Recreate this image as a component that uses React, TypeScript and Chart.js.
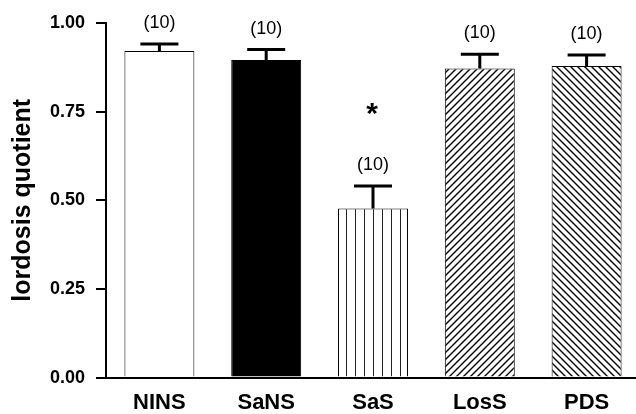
import React, { useEffect, useRef } from 'react';
import { Chart, registerables } from 'chart.js';

Chart.register(...registerables);

const categories = ['NINS', 'SaNS', 'SaS', 'LosS', 'PDS'];
const means = [0.921, 0.896, 0.477, 0.872, 0.879];
const sems = [0.02, 0.029, 0.063, 0.04, 0.031];
const groupSizes = [10, 10, 10, 10, 10];
const significant = [false, false, true, false, false];
const yTicks = [0, 0.25, 0.5, 0.75, 1.0];
const fills = ['white', 'black', 'vstripe', 'fwdhatch', 'backhatch'];

const FONT = "'Liberation Sans', Arial, Helvetica, sans-serif";

function makeFill(ctx: CanvasRenderingContext2D, kind: string): any {
  if (kind === 'white') return '#ffffff';
  if (kind === 'black') return '#000000';
  const c = document.createElement('canvas');
  const g = c.getContext('2d') as CanvasRenderingContext2D;
  if (kind === 'vstripe') {
    c.width = 9;
    c.height = 9;
    g.fillStyle = '#ffffff';
    g.fillRect(0, 0, 9, 9);
    g.fillStyle = '#222222';
    g.fillRect(4, 0, 1, 9);
  } else {
    const s = 7;
    c.width = s;
    c.height = s;
    g.fillStyle = '#ffffff';
    g.fillRect(0, 0, s, s);
    g.strokeStyle = '#000000';
    g.lineWidth = 1.4;
    g.beginPath();
    if (kind === 'fwdhatch') {
      g.moveTo(0, s);
      g.lineTo(s, 0);
      g.moveTo(-2, 2);
      g.lineTo(2, -2);
      g.moveTo(s - 2, s + 2);
      g.lineTo(s + 2, s - 2);
    } else {
      g.moveTo(0, 0);
      g.lineTo(s, s);
      g.moveTo(-2, s - 2);
      g.lineTo(2, s + 2);
      g.moveTo(s - 2, -2);
      g.lineTo(s + 2, 2);
    }
    g.stroke();
  }
  return ctx.createPattern(c, 'repeat');
}

const annotatePlugin = {
  id: 'annotate',
  afterDatasetsDraw(chart: any) {
    const ctx: CanvasRenderingContext2D = chart.ctx;
    const meta = chart.getDatasetMeta(0);
    const yScale = chart.scales.y;
    ctx.save();
    for (let i = 0; i < means.length; i++) {
      const bar = meta.data[i];
      const x = bar.x;
      const yTop = yScale.getPixelForValue(means[i]);
      const yCap = yScale.getPixelForValue(means[i] + sems[i]);
      ctx.strokeStyle = '#000';
      ctx.lineWidth = 3;
      ctx.beginPath();
      ctx.moveTo(x, yTop);
      ctx.lineTo(x, yCap);
      ctx.moveTo(x - 19, yCap);
      ctx.lineTo(x + 19, yCap);
      ctx.stroke();
      const labelY = yCap - 21;
      ctx.fillStyle = '#000';
      ctx.textAlign = 'center';
      ctx.textBaseline = 'middle';
      ctx.font = `18px ${FONT}`;
      ctx.fillText(`(${groupSizes[i]})`, x, labelY);
      if (significant[i]) {
        ctx.font = `bold 30px ${FONT}`;
        ctx.fillText('*', x - 1, labelY - 50);
      }
    }
    ctx.restore();
  },
};

export default function App() {
  const ref = useRef<HTMLCanvasElement | null>(null);
  useEffect(() => {
    const canvas = ref.current;
    if (!canvas) return;
    const ctx = canvas.getContext('2d') as CanvasRenderingContext2D;
    const chart = new Chart(ctx, {
      type: 'bar',
      data: {
        labels: categories,
        datasets: [
          {
            data: means,
            backgroundColor: fills.map((f) => makeFill(ctx, f)),
            borderColor: '#000',
            borderWidth: 1,
            categoryPercentage: 1,
            barPercentage: 0.655,
          },
        ],
      },
      options: {
        responsive: false,
        animation: false,
        devicePixelRatio: 1,
        layout: { padding: { left: 0, right: 20, top: 23, bottom: 0 } },
        plugins: { legend: { display: false }, tooltip: { enabled: false } },
        scales: {
          x: {
            grid: { display: false, drawTicks: false },
            border: { display: true, color: '#000', width: 2 },
            ticks: {
              color: '#000',
              font: { family: FONT, size: 22, weight: 'bold' },
              padding: 12,
            },
          },
          y: {
            min: 0,
            max: 1,
            afterBuildTicks: (s: any) => {
              s.ticks = yTicks.map((v) => ({ value: v }));
            },
            afterFit: (s: any) => {
              s.width = 106;
            },
            grid: {
              display: true,
              drawOnChartArea: false,
              drawTicks: true,
              tickLength: 10,
              color: '#000',
              lineWidth: 2,
            },
            border: { display: true, color: '#000', width: 2 },
            ticks: {
              color: '#000',
              font: { family: FONT, size: 18, weight: 'bold' },
              padding: 11,
              callback: (v: any) => Number(v).toFixed(2),
            },
            title: {
              display: true,
              text: 'lordosis quotient',
              color: '#000',
              font: { family: FONT, size: 25, weight: 'bold' },
              padding: { top: 8, bottom: 0 },
            },
          },
        },
      },
      plugins: [annotatePlugin],
    });
    return () => chart.destroy();
  }, []);
  return (
    <div
      style={{
        position: 'absolute',
        left: 0,
        top: 0,
        width: 636,
        height: 414,
        overflow: 'hidden',
        background: '#fff',
      }}
    >
      <canvas ref={ref} width={660} height={428} style={{ display: 'block' }} />
    </div>
  );
}
